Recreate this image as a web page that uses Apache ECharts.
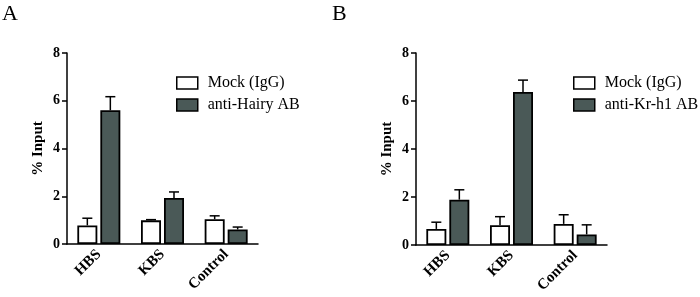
<!DOCTYPE html>
<html>
<head>
<meta charset="utf-8">
<script src="https://cdn.jsdelivr.net/npm/echarts@6/dist/echarts.min.js"></script>
<style>
  html, body { margin: 0; padding: 0; background: #fff; }
  #chart { width: 700px; height: 297px; }
</style>
</head>
<body>
<div id="chart"></div>
<script>
// ============================================================
// data
// ============================================================
const categories = ['HBS', 'KBS', 'Control']
const yTicks = [0, 2, 4, 6, 8]

// panel A
const mockA = [0.78, 0.99, 1.04]
const mockAErr = [0.30, 0.03, 0.14]
const hairy = [5.60, 1.93, 0.61]
const hairyErr = [0.57, 0.25, 0.10]

// panel B
const mockB = [0.67, 0.82, 0.88]
const mockBErr = [0.28, 0.36, 0.38]
const krh1 = [1.89, 6.38, 0.44]
const krh1Err = [0.41, 0.49, 0.40]

const FONT = '"Liberation Serif", "DejaVu Serif", serif'
const DARK = '#4a5957'
const BAR_W = 20
const BAR_OFF = 11.5

const chart = echarts.init(document.getElementById('chart'))

function xAxisFor(gridIndex) {
  return {
    type: 'category',
    gridIndex,
    data: categories,
    axisLine: { lineStyle: { color: '#000', width: 1.5 } },
    axisTick: { alignWithLabel: true, length: 5, lineStyle: { color: '#000', width: 1.5 } },
    axisLabel: {
      rotate: 45, interval: 0, margin: 8,
      fontFamily: FONT, fontWeight: 'bold', fontSize: 15, color: '#000'
    }
  }
}

function yAxisFor(gridIndex) {
  return {
    type: 'value',
    gridIndex,
    min: yTicks[0],
    max: yTicks[yTicks.length - 1],
    interval: 2,
    name: '% Input',
    nameLocation: 'middle',
    nameRotate: 90,
    nameGap: 21,
    nameTextStyle: { fontFamily: FONT, fontWeight: 'bold', fontSize: 15, color: '#000' },
    splitLine: { show: false },
    axisLine: { show: true, lineStyle: { color: '#000', width: 1.5 } },
    axisTick: { show: true, length: 5, lineStyle: { color: '#000', width: 1.5 } },
    axisLabel: { fontFamily: FONT, fontWeight: 'bold', fontSize: 14, color: '#000', margin: 7 }
  }
}

function barSeries(name, values, color, idx) {
  return {
    name,
    type: 'bar',
    xAxisIndex: idx,
    yAxisIndex: idx,
    data: values,
    barWidth: BAR_W,
    barGap: '15%',
    itemStyle: { color, borderColor: '#000', borderWidth: 1.8 },
    z: 2
  }
}

// 只画向上的误差线 (T 形)
function errSeries(values, errs, offset, idx) {
  return {
    type: 'custom',
    xAxisIndex: idx,
    yAxisIndex: idx,
    data: values.map((v, i) => [i, v, errs[i]]),
    z: 3,
    silent: true,
    renderItem: (params, api) => {
      const i = api.value(0)
      const v = api.value(1)
      const e = api.value(2)
      const p0 = api.coord([i, v])
      const p1 = api.coord([i, v + e])
      const x = p0[0] + offset
      const style = { stroke: '#000', lineWidth: 1.5 }
      return {
        type: 'group',
        children: [
          { type: 'line', shape: { x1: x, y1: p0[1], x2: x, y2: p1[1] }, style },
          { type: 'line', shape: { x1: x - 5, y1: p1[1], x2: x + 5, y2: p1[1] }, style }
        ]
      }
    }
  }
}

function legendFor(left, names) {
  return {
    orient: 'vertical',
    left,
    top: 70,
    itemWidth: 21,
    itemHeight: 12,
    itemGap: 6,
    icon: 'rect',
    data: names,
    selectedMode: false,
    textStyle: { fontFamily: FONT, fontSize: 16, color: '#000', padding: [0, 0, 0, 5] },
    itemStyle: { borderColor: '#000', borderWidth: 1.5 }
  }
}

const option = {
  animation: false,
  backgroundColor: '#fff',
  title: [
    { text: 'A', left: -3, top: -2, textStyle: { fontFamily: FONT, fontWeight: 'normal', fontSize: 22, color: '#000' } },
    { text: 'B', left: 327, top: -2, textStyle: { fontFamily: FONT, fontWeight: 'normal', fontSize: 22, color: '#000' } }
  ],
  legend: [
    legendFor(171, ['Mock (IgG)', 'anti-Hairy AB']),
    legendFor(568, ['Mock (IgG) ', 'anti-Kr-h1 AB'])
  ],
  grid: [
    { left: 67, top: 53, width: 191, height: 191 },
    { left: 416, top: 53, width: 191, height: 192 }
  ],
  xAxis: [xAxisFor(0), xAxisFor(1)],
  yAxis: [yAxisFor(0), yAxisFor(1)],
  series: [
    barSeries('Mock (IgG)', mockA, '#fff', 0),
    barSeries('anti-Hairy AB', hairy, DARK, 0),
    errSeries(mockA, mockAErr, -BAR_OFF, 0),
    errSeries(hairy, hairyErr, BAR_OFF, 0),
    barSeries('Mock (IgG) ', mockB, '#fff', 1),
    barSeries('anti-Kr-h1 AB', krh1, DARK, 1),
    errSeries(mockB, mockBErr, -BAR_OFF, 1),
    errSeries(krh1, krh1Err, BAR_OFF, 1)
  ]
}

chart.setOption(option)
</script>
</body>
</html>
